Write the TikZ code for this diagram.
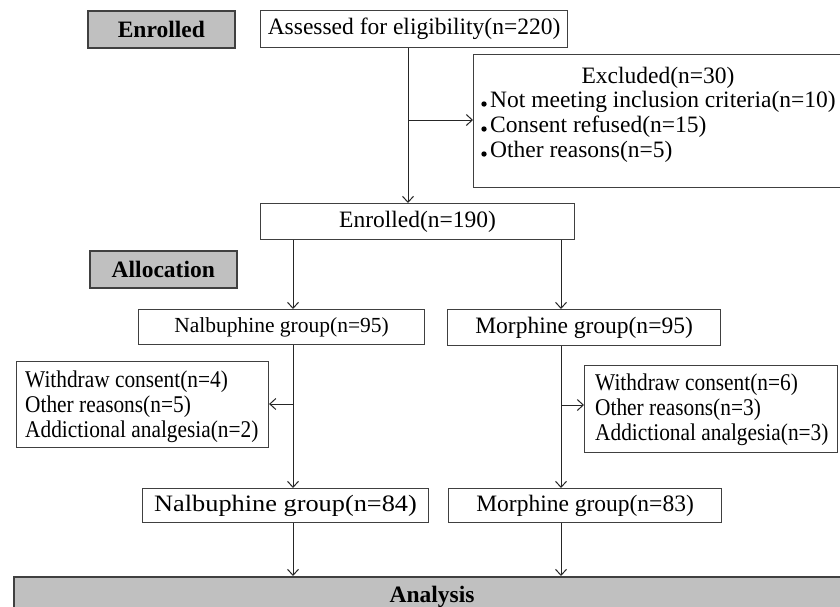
\documentclass[tikz,border=0pt]{standalone}
\usepackage{fontspec}
\setmainfont{Liberation Serif}
\newfontfamily\condf[FakeStretch=0.89]{Liberation Serif}
\newfontfamily\widef[FakeStretch=1.12]{Liberation Serif}
\usetikzlibrary{arrows.meta}
\definecolor{hdr}{HTML}{C0C0C0}
\definecolor{edge}{HTML}{404040}
\begin{document}
\begin{tikzpicture}[x=1pt,y=-1pt,
  box/.style={draw=edge, line width=1.1pt, inner sep=0pt, anchor=north west},
  hdrbox/.style={box, fill=hdr, line width=1.6pt, font=\fontsize{23.5}{28}\selectfont\bfseries},
  lbl/.style={inner sep=0pt, anchor=base west},
  cond/.style={lbl, font=\condf\fontsize{24}{28}\selectfont},
  conn/.style={draw=black!85, line width=1pt},
  arr/.style={conn, -{Straight Barb[length=6pt,width=11pt]}},
  font=\fontsize{23.5}{28}\selectfont]
\useasboundingbox (0,0) rectangle (840,606);
\clip (0,0) rectangle (840,606);
\fill[white] (0,0) rectangle (840,606);

% header boxes
\node[hdrbox, minimum width=147pt, minimum height=37pt] (enr) at (87,10) {Enrolled};
\node[hdrbox, minimum width=147pt, minimum height=37pt] (alloc) at (89,250) {Allocation};
\node[hdrbox, minimum width=838pt, minimum height=44pt] (ana) at (13,576) {};
\node[inner sep=0pt, font=\fontsize{23.5}{28}\selectfont\bfseries] (anat) at (432,597) {Analysis};

% main boxes
\node[box, minimum width=307pt, minimum height=37pt] (assess) at (260,10) {Assessed for eligibility(n=220)};
\node[box, minimum width=372pt, minimum height=133pt] (excl) at (473,54) {};
\node[lbl, anchor=base] (exclt) at (658,83) {Excluded(n=30)};
\node[lbl] (ex1) at (490,107) {Not meeting inclusion criteria(n=10)};
\node[lbl] (ex2) at (490,132) {Consent refused(n=15)};
\node[lbl] (ex3) at (490,157) {Other reasons(n=5)};
\fill (484,104) circle (2.7pt);
\fill (484,129) circle (2.7pt);
\fill (484,154) circle (2.7pt);

\node[box, minimum width=314pt, minimum height=36pt] (enrolled) at (260,203) {Enrolled(n=190)};

\node[box, minimum width=286pt, minimum height=35pt, font=\fontsize{21.5}{26}\selectfont] (nal1) at (138,309) {Nalbuphine group(n=95)};
\node[box, minimum width=273pt, minimum height=36pt] (mor1) at (447,309) {Morphine group(n=95)};

\node[box, minimum width=252pt, minimum height=86pt] (wl) at (16,361) {};
\node[cond] (wl1) at (25,387) {Withdraw consent(n=4)};
\node[cond] (wl2) at (25,412) {Other reasons(n=5)};
\node[cond] (wl3) at (25,437) {Addictional analgesia(n=2)};

\node[box, minimum width=253pt, minimum height=87pt] (wr) at (584,365) {};
\node[cond] (wr1) at (595,390) {Withdraw consent(n=6)};
\node[cond] (wr2) at (595,415) {Other reasons(n=3)};
\node[cond] (wr3) at (595,440) {Addictional analgesia(n=3)};

\node[box, minimum width=286pt, minimum height=34pt, font=\widef\fontsize{23.5}{28}\selectfont] (nal2) at (142,488) {Nalbuphine group(n=84)};
\node[box, minimum width=273pt, minimum height=34pt] (mor2) at (448,488) {Morphine group(n=83)};

% connectors
\coordinate (xA) at (408,0);
\coordinate (xL) at (293,0);
\coordinate (xR) at (561,0);
\coordinate (bA) at (408,120);
\coordinate (bL) at (293,404);
\coordinate (bR) at (561,405);
\draw[arr] (assess.south -| xA) -- (enrolled.north -| xA);
\draw[arr] (bA) -- (bA -| excl.west);
\draw[arr] (enrolled.south -| xL) -- (nal1.north -| xL);
\draw[arr] (enrolled.south -| xR) -- (mor1.north -| xR);
\draw[arr] (nal1.south -| xL) -- (nal2.north -| xL);
\draw[arr] (bL) -- (bL -| wl.east);
\draw[arr] (mor1.south -| xR) -- (mor2.north -| xR);
\draw[arr] (bR) -- (bR -| wr.west);
\draw[arr] (nal2.south -| xL) -- (ana.north -| xL);
\draw[arr] (mor2.south -| xR) -- (ana.north -| xR);
\end{tikzpicture}
\end{document}
